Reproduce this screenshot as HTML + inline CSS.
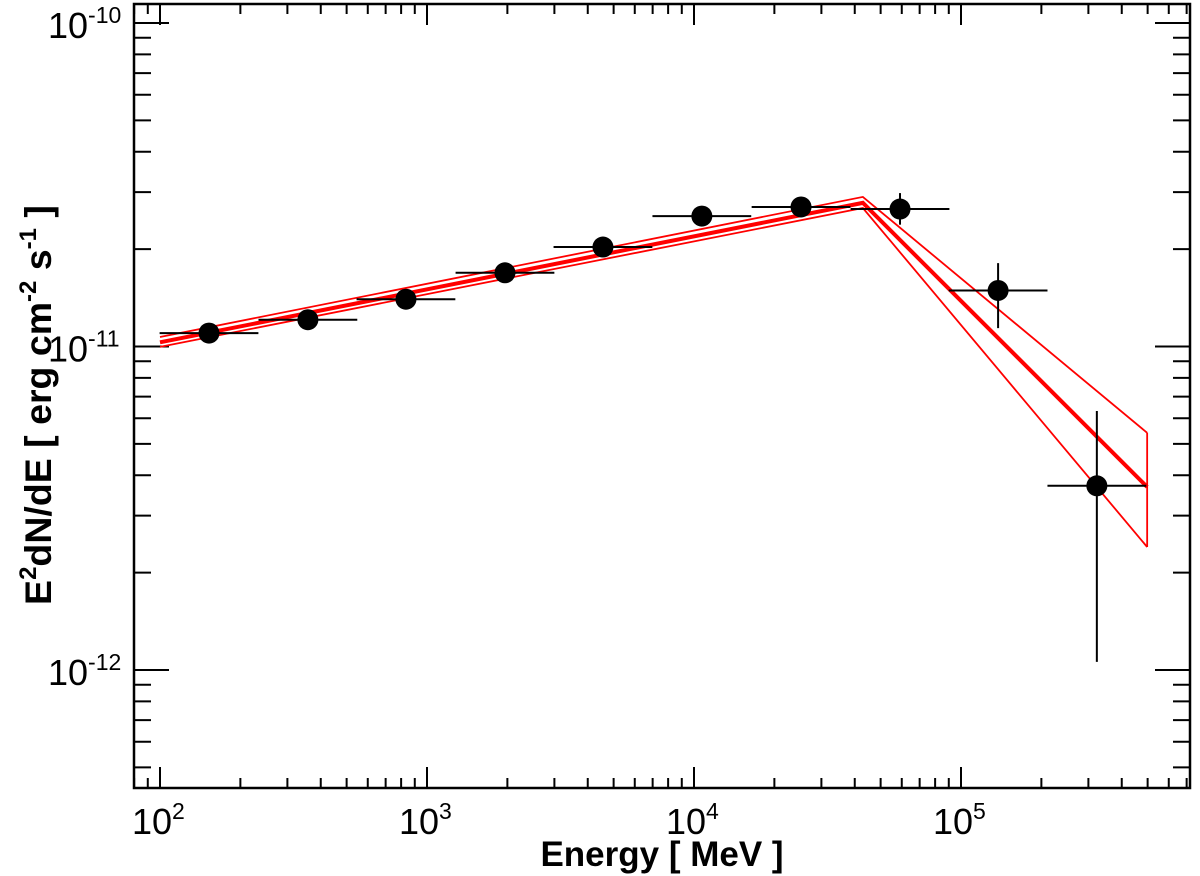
<!DOCTYPE html>
<html><head><meta charset="utf-8"><style>
html,body{margin:0;padding:0;background:#fff}
svg{display:block;font-family:"Liberation Sans",sans-serif}
</style></head><body>
<svg id="c" width="1200" height="876" xmlns="http://www.w3.org/2000/svg">
<text x="662" y="866" font-size="35" font-weight="bold" text-anchor="middle">Energy [ MeV ]</text>
<text transform="translate(51,405) rotate(-90)" font-size="37.5" font-weight="bold" text-anchor="middle">E<tspan font-size="24" dy="-15">2</tspan><tspan dy="15">dN/dE [ erg cm</tspan><tspan font-size="24" dy="-15">-2</tspan><tspan dy="15"> s</tspan><tspan font-size="24" dy="-15">-1</tspan><tspan dy="15"> ]</tspan></text>
</svg>
<script>
const energies=[152.6,358,834,1959,4560,10700,25170,59100,137700,322700];
const fluxes=[1.10e-11,1.21e-11,1.40e-11,1.69e-11,2.03e-11,2.53e-11,2.70e-11,2.66e-11,1.49e-11,3.71e-12];
const fluxLo=[1.08e-11,1.19e-11,1.38e-11,1.66e-11,2.00e-11,2.49e-11,2.65e-11,2.38e-11,1.14e-11,1.06e-12];
const fluxHi=[1.12e-11,1.23e-11,1.42e-11,1.72e-11,2.06e-11,2.57e-11,2.75e-11,2.98e-11,1.81e-11,6.32e-12];
const binHalfDec=[0.185,0.185,0.185,0.185,0.185,0.185,0.185,0.185,0.185,0.185];
const modelE=[100,42900,498000];
const modelF=[1.03e-11,2.78e-11,3.68e-12];
const bandUpperF=[1.07e-11,2.90e-11,5.41e-12];
const bandLowerF=[9.97e-12,2.68e-11,2.40e-12];
const xTickLabels=["10","10","10","10"];
const xTickExp=["2","3","4","5"];
const yTickExp=["-10","-11","-12"];

const NS="http://www.w3.org/2000/svg";
const svg=document.getElementById('c');
const L=134,R=1190,T=4,B=788;
const X=e=>160+(Math.log10(e)-2)*267;
const Y=f=>23+(-10-Math.log10(f))*323.5;
function el(tag,attrs,parent){const n=document.createElementNS(NS,tag);for(const k in attrs)n.setAttribute(k,attrs[k]);(parent||svg).appendChild(n);return n;}

const frame=el('rect',{x:L,y:T,width:R-L,height:B-T,fill:'none',stroke:'#000','stroke-width':2.5});



for(let d=1;d<=5;d++){for(let m=1;m<=9;m++){const e=m*Math.pow(10,d);const x=X(e);if(x<L||x>R)continue;const len=m==1?21:10;
 const t1=el('line',{x1:x,x2:x,y1:B,y2:B-len,stroke:'#000','stroke-width':2});
 
 
 const t2=el('line',{x1:x,x2:x,y1:T,y2:T+len,stroke:'#000','stroke-width':2});
 
 }}
xTickExp.forEach((ex,i)=>{const x=X(Math.pow(10,+ex));
 const t=el('text',{x:x-28,y:834,'font-size':36});
 
 
 t.innerHTML=xTickLabels[i]+'<tspan font-size="23" dy="-15">'+ex+'</tspan>';});
for(let d=-13;d<=-10;d++){for(let m=1;m<=9;m++){const f=m*Math.pow(10,d);const y=Y(f);if(y<T||y>B)continue;const len=m==1?35:17;
 const t1=el('line',{x1:L,x2:L+len,y1:y,y2:y,stroke:'#000','stroke-width':2});
 
 
 const t2=el('line',{x1:R,x2:R-len,y1:y,y2:y,stroke:'#000','stroke-width':2});
 
 }}
yTickExp.forEach(ex=>{const y=Y(Math.pow(10,+ex));
 const t=el('text',{x:48,y:y+15,'font-size':36});
 
 
 t.innerHTML='10<tspan font-size="23" dy="-15">'+ex+'</tspan>';});

const pts=(E,F)=>E.map((e,i)=>X(e)+','+Y(F[i])).join(' ');
const up=el('polyline',{points:pts(modelE,bandUpperF),fill:'none',stroke:'#f00','stroke-width':1.8});


const lo=el('polyline',{points:pts(modelE,bandLowerF),fill:'none',stroke:'#f00','stroke-width':1.8});


const n=modelE.length-1;
const ed=el('line',{x1:X(modelE[n]),x2:X(modelE[n]),y1:Y(bandUpperF[n]),y2:Y(bandLowerF[n]),stroke:'#f00','stroke-width':1.8});


const ml=el('polyline',{points:pts(modelE,modelF),fill:'none',stroke:'#f00','stroke-width':4});



energies.forEach((e,i)=>{const g=el('g',{});
 
 
 const x=X(e),y=Y(fluxes[i]);const h=binHalfDec[i]*267;
 el('line',{x1:x-h,x2:x+h,y1:y,y2:y,stroke:'#000','stroke-width':2},g);
 el('line',{x1:x,x2:x,y1:Y(fluxHi[i]),y2:Y(fluxLo[i]),stroke:'#000','stroke-width':2},g);
 el('circle',{cx:x,cy:y,r:10.5,fill:'#000'},g);});
</script>
</body></html>
